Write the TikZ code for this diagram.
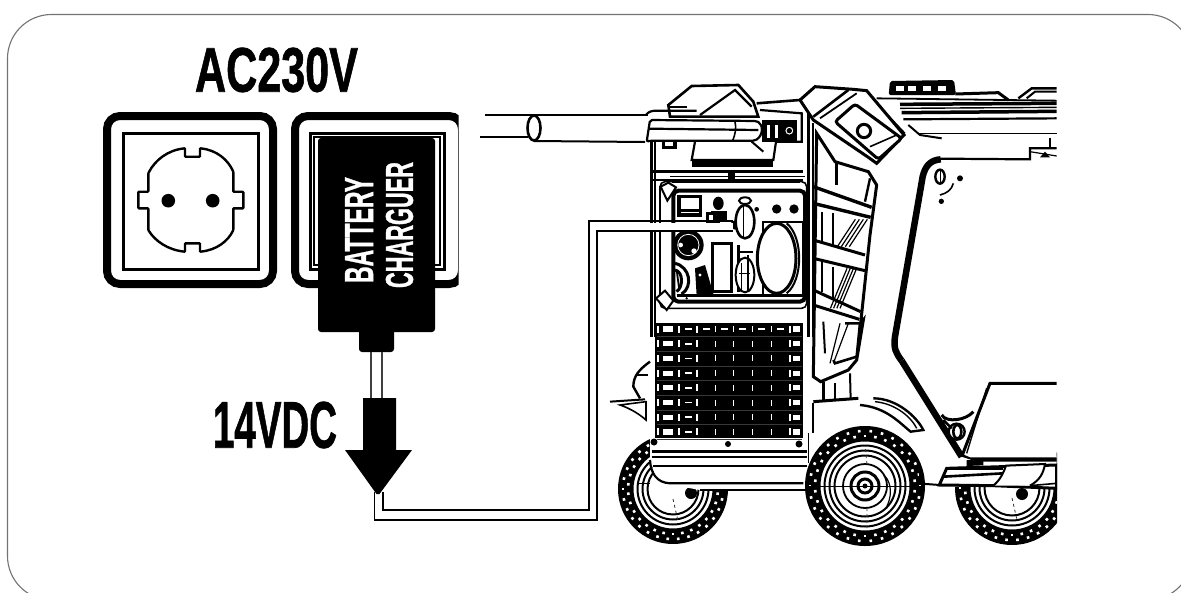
\documentclass[tikz,border=0pt]{standalone}
\usepackage{graphicx}
\usepackage{fontspec}
\setmainfont{Liberation Sans}
\newfontfamily\heavyfont[FakeBold=1.2]{Liberation Sans Bold}
\tikzset{
  frameline/.style={draw=black!55,line width=1.1pt,rounded corners=44pt},
  wirepath/.style={draw=black,line width=1.5pt},
  lw/.style={draw=black,line width=#1},
  lw/.default=1.2pt,
  zone/.style={shift={(600pt,-70pt)},x=0.33333pt,y=-0.33333pt},
  ztwo/.style={shift={(600pt,-320pt)},x=0.33333pt,y=-0.33333pt},
  zseven/.style={shift={(640pt,-170pt)},x=0.33333pt,y=-0.33333pt},
  lab/.style={inner sep=0pt,text=black,font=\heavyfont},
}
\newcommand{\wheelat}[4]{% cx cy r inner-detail
  \begin{scope}[shift={(#1pt,-#2pt)},x=1pt,y=-1pt]
    \fill[black] (0,0) circle (#3pt);
    \foreach \a in {0,12,...,348}{
      \fill[white,rotate=\a] (#3-6.2,-1.3) rectangle (#3-3.6,1.3);
      \fill[white,rotate=\a+6] (#3-11.4,-1.3) rectangle (#3-8.8,1.3);
    }
    \draw[black,line width=2pt,fill=white] (0,0) circle (#3-14.5pt);
    \draw[black,line width=2pt] (0,0) circle (#3-19.5pt);
    \draw[black,line width=2pt] (0,0) circle (#3-24.5pt);
    \draw[black,line width=2pt] (0,0) circle (#3-29.5pt);
    #4
  \end{scope}}
\begin{document}
\begin{tikzpicture}[x=1pt,y=-1pt]
\useasboundingbox (0,0) rectangle (1181,592);
\fill[white] (0,0) rectangle (1181,592);
\draw[frameline] (7.5,14.5) rectangle (1192,600);

% ---- left socket
\node[lab] (title) at (276.5,70) {\resizebox{163pt}{44pt}{AC230V}};
\draw[lw=8pt,rounded corners=13pt] (107,116) rectangle (273,284);
\draw[lw=3pt] (123,133) rectangle (258,269);
\draw[lw=2.4pt,fill=white,rounded corners=0.8pt]
  (148.3,191.7) -- (148.3,173.3) .. controls (155,160) and (168,150) .. (185,148.3)
  -- (185,156.7) -- (200,156.7) -- (200,148.3) .. controls (217,150) and (228,160) .. (233.3,171.7)
  -- (233.3,191.7) -- (243.3,191.7) -- (243.3,208.3) -- (233.3,208.3) -- (233.3,230)
  .. controls (228,241) and (217,250) .. (200,251.7) -- (200,243.3) -- (185,243.3) -- (185,251.7)
  .. controls (168,250) and (155,241) .. (148.3,230) -- (148.3,208.3) -- (138.3,208.3) -- (138.3,191.7) -- cycle;
\fill[black] (168.3,200.7) circle (6.8pt) (212.7,200.7) circle (6.8pt);

% ---- right socket, cut at its right edge
\begin{scope}
  \clip (280,100) rectangle (458.5,300);
  \draw[lw=8pt,rounded corners=13pt] (295,116) rectangle (462,284);
\end{scope}
\draw[lw=3pt] (310,133) rectangle (444,269);
\draw[lw=1.2pt] (314,137) rectangle (440,265);

% ---- charger
\fill[black,rounded corners=3pt] (318,138) rectangle (435,332);
\fill[black,rounded corners=3pt] (359,325) rectangle (394,352);
\node[lab,text=white,rotate=90] (battery) at (359,230) {\resizebox{106pt}{28pt}{BATTERY}};
\node[lab,text=white,rotate=90] (charguer) at (399.5,225) {\resizebox{126pt}{27pt}{CHARGUER}};
\coordinate (neckL) at (371,352);
\coordinate (neckR) at (382,352);
\coordinate (arrL) at (371,398);
\coordinate (arrR) at (382,398);
\draw[draw=black!75,line width=1.2pt] (neckL) -- (arrL) (neckR) -- (arrR);
\fill[black] (363,398) -- (396,398) -- (396,450) -- (412,450) -- (379.5,494) -- (376.5,494) -- (345,450) -- (363,450) -- cycle;
\node[lab] (vdc) at (275,425) {\resizebox{124pt}{46pt}{14VDC}};

% ---- wires from charger to panel
\coordinate (tipA) at (383,492);
\coordinate (tipB) at (374.5,492);
\coordinate (endA) at (733,221);
\coordinate (endB) at (733,231);

% ---- generator
\begin{scope}
\clip (470,0) rectangle (1057,592);

% rear wheels
\wheelat{673}{489}{55}{\fill[black] (18,4) circle (6pt); \draw[black!80,dashed,line width=.8pt] (0,10) -- (5,32);}
\wheelat{1012}{488}{57}{\fill[black] (10,6) circle (6pt); \draw[black!80,dashed,line width=.8pt] (0,10) -- (5,32);}

\begin{scope}[ztwo]
% white masks behind the body
\fill[white] (150,-500) -- (640,-500) -- (640,505) -- (300,510) -- (200,492) -- (165,465) -- (150,420) -- cycle;
\fill[white] (640,170) -- (770,120) -- (1000,330) -- (1100,410) -- (1370,410) -- (1370,500) -- (1020,500) -- (640,500) -- cycle;
\fill[white] (1170,190) -- (1370,190) -- (1370,415) -- (1085,415) -- cycle;
\fill[white] (1020,445) -- (1370,435) -- (1370,505) -- (1020,497) -- cycle;
% lower frame
\draw[lw=2.6pt] (155,395) -- (620,395);
\draw[lw=1.8pt] (155,412) -- (620,412);
\draw[lw=1.4pt] (160,438) -- (620,438);
\draw[lw=2.2pt] (150,420) .. controls (152,460) and (170,488) .. (210,490) -- (610,490);
\draw[lw=1.4pt] (300,510) -- (625,510);
\draw[lw=1.2pt] (110,490) -- (150,490);
% left fender and bracket
\draw[lw=2pt] (30,245) -- (135,238);
\draw[lw=1.6pt,fill=white] (60,255) .. controls (80,262) and (110,275) .. (138,300) -- (138,245) -- cycle;
\draw[lw=2.4pt] (150,125) .. controls (115,150) and (100,170) .. (100,200) -- (120,235);
\draw[lw=1.8pt] (110,165) -- (145,165);
\end{scope}

% ---- ventilation grid
\fill[black] (655,323) rectangle (803,438);
\foreach \y in {329,343.7,358.4,373.1,387.8,402.5,417.2,431.9}{
  \fill[white] (663,\y-2.6) rectangle (673,\y+2.6);
  \fill[white] (793,\y-2.6) rectangle (800,\y+2.6);
  \foreach \x in {658,679,697,790}{
    \fill[white] (\x-0.8,\y-3.5) rectangle (\x+0.8,\y+3.5);
  }
  \foreach \x in {715,733,752,771}{
    \fill[white] (\x-0.5,\y-3) rectangle (\x+0.5,\y+3);
  }
  \fill[white] (685,\y-.8) rectangle (692,\y+.8);
  \draw[black!78,line width=.4pt] (657,\y+7.3) -- (802,\y+7.3);
}
\foreach \x in {703,721,739,758,777}{
  \fill[white] (\x,327.5) rectangle (\x+7,330);
}
\fill[white] (658,440) rectangle (725,449);
\fill[white] (731,440) rectangle (797,449);
\fill[black] (654,442) circle (3.5pt) (728,444) circle (3pt) (799,444) circle (3.5pt);

\begin{scope}[zone]
% ---- handle running to the right
\draw[lw=1.8pt] (830,85) -- (1370,92);
\draw[lw=3.5pt] (900,103) -- (1370,100);
\draw[lw=1.4pt] (900,115) -- (1370,112);
\draw[lw=3.5pt] (905,128) -- (1370,124);
\draw[lw=2.2pt] (910,148) -- (1370,145);
\draw[lw=2pt] (925,165) -- (960,195) -- (1025,205);
\draw[lw=1.6pt] (950,190) -- (1370,190);
% top cap
\fill[black,rounded corners=2pt] (866,75) -- (870,33) -- (1062,30) -- (1068,75) -- cycle;
\foreach \x in {888,925,970,1015}{\fill[white] (\x,48) rectangle (\x+24,64);}
\draw[lw=3pt] (1066,72) -- (1195,68) -- (1225,90);
\draw[lw=2.4pt] (1255,85) -- (1295,55) -- (1370,55);
\draw[lw=2pt] (1280,85) -- (1305,65) -- (1370,65);
% rear handle curve
\draw[lw=2.2pt] (1020,266) -- (1290,268) -- (1290,235) -- (1370,235);
\draw[lw=1.2pt] (1350,205) -- (1350,235);
\draw[lw=1.2pt] (1290,245) -- (1370,258);
\fill[black] (1320,262) -- (1335,245) -- (1350,262) -- cycle;
\draw[lw=6.5pt,line join=round] (1022,268) .. controls (990,270) and (975,290) .. (968,320) -- (885,800) .. controls (880,835) and (888,850) .. (905,872);
% clamp
\draw[lw=2.4pt,fill=white] (1020,320) ellipse (14 and 21);
\draw[lw=1pt] (1020,300) -- (1020,340);
\draw[lw=1.6pt] (1060,340) .. controls (1055,360) and (1040,370) .. (1020,375);
\fill[black] (1080,325) circle (9) (1024,394) circle (8);
\end{scope}

\begin{scope}[zone]
% ---- left top housing
\draw[lw=2.6pt,fill=white] (205,105) -- (275,48) -- (415,45) -- (460,95) -- (475,140) -- (210,140) -- cycle;
\draw[lw=2.2pt] (300,135) -- (405,60) -- (455,110);
\draw[lw=2pt] (260,110) -- (205,110);
\draw[lw=2.2pt] (138,135) .. controls (145,125) and (155,122) .. (170,122) -- (290,122);
% central deck
\draw[lw=2.6pt] (470,100) -- (600,90);
\draw[lw=2.2pt] (480,120) -- (605,130) -- (605,215) -- (525,215);
% body box
\draw[lw=3.4pt] (155,215) -- (155,800);
\draw[lw=2.2pt] (166,215) -- (166,800);
\draw[lw=3.4pt] (625,130) -- (625,800);
\draw[lw=2.2pt] (640,160) -- (640,800);
% block under plug
\draw[lw=2.2pt,fill=white] (285,215) -- (275,270) -- (520,270) -- (528,215);
\fill[black] (275,268) rectangle (520,290);
\draw[lw=2pt] (455,215) -- (490,245);
\fill[white] (285,255) rectangle (470,264);
% underside connection
\draw[lw=2.4pt] (160,305) -- (610,305);
\draw[lw=2.4pt] (160,330) -- (385,330);
\draw[lw=2.4pt] (405,330) -- (610,330);
\fill[black] (385,305) rectangle (405,332);
\fill[black] (185,215) rectangle (230,238);
\fill[white] (195,215) rectangle (220,228);
% knob beside plug
\fill[black] (485,150) rectangle (590,215);
\fill[white] (502,165) rectangle (510,205);
\fill[white] (525,165) rectangle (533,205);
\draw[lw=3pt,fill=white] (568,182) circle (17);
\fill[black] (568,182) circle (8);
% plug on the charger cord
\draw[lw=2.2pt,fill=white,rounded corners=2pt] (140,215) -- (150,150) -- (470,153) .. controls (490,165) and (490,195) .. (465,212) -- (150,212) -- cycle;
\draw[lw=2.2pt] (145,176) -- (475,180);
\draw[lw=1.6pt] (405,155) .. controls (410,175) and (405,195) .. (398,212);
\end{scope}

\begin{scope}[zone]
% ---- right panel top
\draw[lw=3pt,fill=white] (600,90) -- (645,50) -- (760,58) -- (800,62) -- (912,195) -- (830,280) -- (805,262) -- (640,150) -- cycle;
\draw[lw=2.6pt] (640,140) -- (745,60);
\draw[lw=1.8pt] (660,145) -- (770,70);
\draw[lw=1.4pt] (830,100) -- (915,190);
\draw[lw=3pt,fill=white,rounded corners=3pt] (705,155) -- (765,102) -- (905,205) -- (835,268) -- cycle;
\draw[lw=3pt,fill=white] (792,183) circle (20);
\draw[lw=1.6pt] (810,230) -- (890,195);
% ---- side strip
\draw[lw=3pt,fill=white] (650,190) -- (705,275) -- (805,305) -- (830,345) -- (810,495) -- (782,760) -- (790,750) -- (770,870) -- (745,900) -- (662,935) -- (640,920) -- cycle;
\draw[lw=3.4pt] (640,350) -- (815,412);
\draw[lw=3.4pt] (640,400) -- (812,442);
\draw[lw=3pt] (640,510) -- (795,555);
\draw[lw=3pt] (640,565) -- (795,602);
\draw[lw=3pt] (640,660) -- (782,725);
\draw[lw=3pt] (640,705) -- (778,748);
\draw[lw=2.4pt] (710,280) -- (710,345);
\draw[lw=2.4pt] (810,325) -- (795,395);
\draw[lw=2pt] (665,425) -- (665,515);
\draw[lw=2pt] (700,430) -- (700,530);
\foreach \d in {0,12,24,36}{
  \draw[lw=1.2pt] (802-\d,448) -- (748-\d,530);
  \draw[lw=1.2pt] (770-\d*.8,595) -- (720-\d*.8,715);
}
\draw[lw=2pt] (665,570) -- (665,665);
\draw[lw=2pt] (700,590) -- (700,690);
\draw[lw=2pt] (670,755) -- (675,850);
\draw[lw=1.2pt] (745,760) -- (700,880);
\draw[lw=1.2pt] (720,760) -- (690,880);
\draw[lw=2.6pt] (735,760) -- (780,760) -- (770,860) -- (705,880) -- (700,870);
\end{scope}

% ---- control panel
\begin{scope}[zseven]
\draw[lw=1.6pt,fill=white,rounded corners=5pt] (60,35) rectangle (500,415);
\draw[lw=4pt,rounded corners=5pt] (100,62) rectangle (495,395);
\draw[lw=2.6pt] (95,35) -- (480,35);
\draw[lw=1.6pt] (90,20) -- (495,20);
\draw[lw=2pt,fill=white] (62,50) -- (85,38) -- (108,52) -- (82,92) -- cycle;
\draw[lw=2pt,fill=white] (48,385) -- (75,362) -- (100,392) -- (80,420) -- cycle;
\draw[lw=3pt] (110,375) -- (490,375);
% meter
\draw[lw=3.4pt] (117,80) rectangle (182,135);
\draw[lw=2.4pt] (117,122) -- (182,122);
% switch group
\fill[black] (197,125) rectangle (225,180);
\fill[black] (235,100) ellipse (16 and 20);
\fill[black] (212,122) rectangle (262,150);
\fill[white] (207,135) rectangle (219,150);
\fill[black] (218,150) rectangle (240,186);
% selector knob
\fill[black] (285,165) circle (14);
\draw[lw=2.6pt,fill=white] (315,155) ellipse (28 and 50);
\draw[lw=2pt,fill=white] (315,92) ellipse (18 and 10);
\draw[lw=1.2pt] (310,105) -- (310,200);
\fill[black] (350,118) circle (7);
% dots
\fill[black] (410,117) circle (14) (462,117) circle (14);
% large cover
\draw[lw=2pt] (370,155) -- (490,155) -- (490,375) -- (370,375) -- cycle;
\draw[lw=2pt] (440,160) .. controls (490,200) and (490,330) .. (440,370);
\draw[lw=3pt,fill=white] (410,265) ellipse (58 and 105);
% outlet sockets
\fill[black] (145,225) circle (46);
\fill[white] (122,225) circle (7) (162,243) circle (8);
\draw[white,line width=.8pt] (145,225) circle (32);
\draw[lw=3pt] (105,280) .. controls (150,290) and (160,350) .. (125,372);
\draw[lw=3pt] (105,300) .. controls (130,305) and (130,350) .. (110,365);
\fill[black] (165,295) -- (195,285) -- (222,378) -- (170,378) -- cycle;
\fill[white] (180,315) circle (5);
\draw[lw=1.8pt] (110,300) -- (118,360);
% rectangle group
\draw[lw=3pt,fill=white] (218,220) rectangle (275,365);
\draw[lw=2.4pt] (295,225) -- (295,365);
\draw[lw=2pt] (300,245) -- (340,245);
\draw[lw=2pt,fill=white] (315,315) ellipse (28 and 52);
\draw[lw=1.2pt] (298,310) -- (330,310) (305,280) -- (305,360);
\draw[lw=2pt] (325,255) -- (325,365);
\fill[black] (140,385) circle (4);
\end{scope}

\begin{scope}[ztwo]
% ---- fender, body side, seat
\draw[lw=2.4pt] (670,185) -- (670,240);
\draw[lw=2.4pt] (705,190) -- (705,240);
\draw[lw=2pt] (750,160) -- (752,240);
\draw[lw=3pt] (640,245) -- (775,235);
\draw[lw=2.2pt] (640,250) -- (640,340);
\draw[lw=1.6pt] (625,340) -- (625,430);
\draw[lw=2.4pt,fill=white] (780,255) .. controls (860,262) and (900,310) .. (932,335) -- (970,330) .. controls (950,290) and (890,235) .. (820,235);
\draw[lw=1.4pt] (825,245) .. controls (880,250) and (930,285) .. (950,325);
\draw[lw=6.5pt,line join=round] (905,122) -- (1085,410);
\fill[black] (1085,410) -- (1130,425) -- (1370,425) -- (1370,412) -- (1110,412) -- (1070,395) -- cycle;
\draw[lw=3pt] (1370,190) -- (1170,190) -- (1085,410);
\draw[lw=1.4pt] (1160,205) -- (1100,400);
% clamp near the seat
\draw[lw=2.4pt,fill=white] (1070,335) circle (24);
\draw[lw=2.6pt] (1072,335) ellipse (12 and 20);
\draw[lw=3pt] (1025,285) .. controls (1040,310) and (1100,300) .. (1120,275);
\draw[lw=2.4pt] (1030,300) -- (1055,325);
% foot step
\draw[lw=3pt,fill=white] (1018,495) -- (1040,445) -- (1370,435) -- (1370,505) -- (1180,497) -- cycle;
\draw[lw=2.6pt] (1040,445) -- (1210,445);
\draw[lw=2.6pt] (1030,470) -- (1210,460);
\fill[black] (1100,420) -- (1150,422) -- (1150,436) -- (1100,438) -- cycle;
\draw[lw=2pt,fill=white] (1180,497) .. controls (1200,480) and (1210,460) .. (1218,437) -- (1335,432) .. controls (1330,460) and (1320,480) .. (1290,497);
\draw[lw=1.6pt] (1290,497) -- (1370,490);
\end{scope}

% front wheel on top
\wheelat{865}{486}{60}{
  \draw[black,line width=1.8pt] (0,0) circle (22pt);
  \draw[black,line width=3pt] (0,0) circle (14pt);
  \draw[black,line width=3pt] (0,0) circle (7pt);
  \fill[black] (0,0) circle (2.5pt);
  \draw[black,line width=1.2pt] (19,-11) .. controls (28,-2) and (26,12) .. (22,20);
  \draw[black!80,dashed,line width=.8pt] (2,-22) -- (0,-40) (2,22) -- (2,42);
  \draw[black,line width=.8pt] (-60,0) -- (60,0);
}

\begin{scope}[ztwo]
\draw[lw=2pt] (950,490) -- (1020,495);
\draw[lw=1.6pt] (960,440) -- (960,490);
\end{scope}
\end{scope}

% ---- tube and plug side of the cable
\fill[white] (526,112) rectangle (644,146);
\coordinate (tubeTopL) at (485,115);
\coordinate (tubeTopR) at (648,115);
\coordinate (tubeLowL) at (480,137);
\coordinate (tubeLowM) at (528,137);
\coordinate (tubeBotL) at (534,141);
\coordinate (tubeBotR) at (645,142);
\draw[lw=1.8pt] (tubeTopL) -- (tubeTopR);
\draw[lw=1.8pt] (tubeLowL) -- (tubeLowM);
\draw[lw=2pt] (tubeBotL) -- (tubeBotR);
\draw[lw=2.6pt,fill=white] (534,128) ellipse (6.5pt and 12.5pt);

% ---- double wire
\fill[white] (650,222.5) rectangle (733,229.5);
\draw[wirepath] (tipA) -- (383,510) -- (589,510) -- (589,221) -- (endA);
\draw[wirepath] (tipB) -- (374.5,520) -- (597,520) -- (597,231) -- (endB);
\end{tikzpicture}
\end{document}
